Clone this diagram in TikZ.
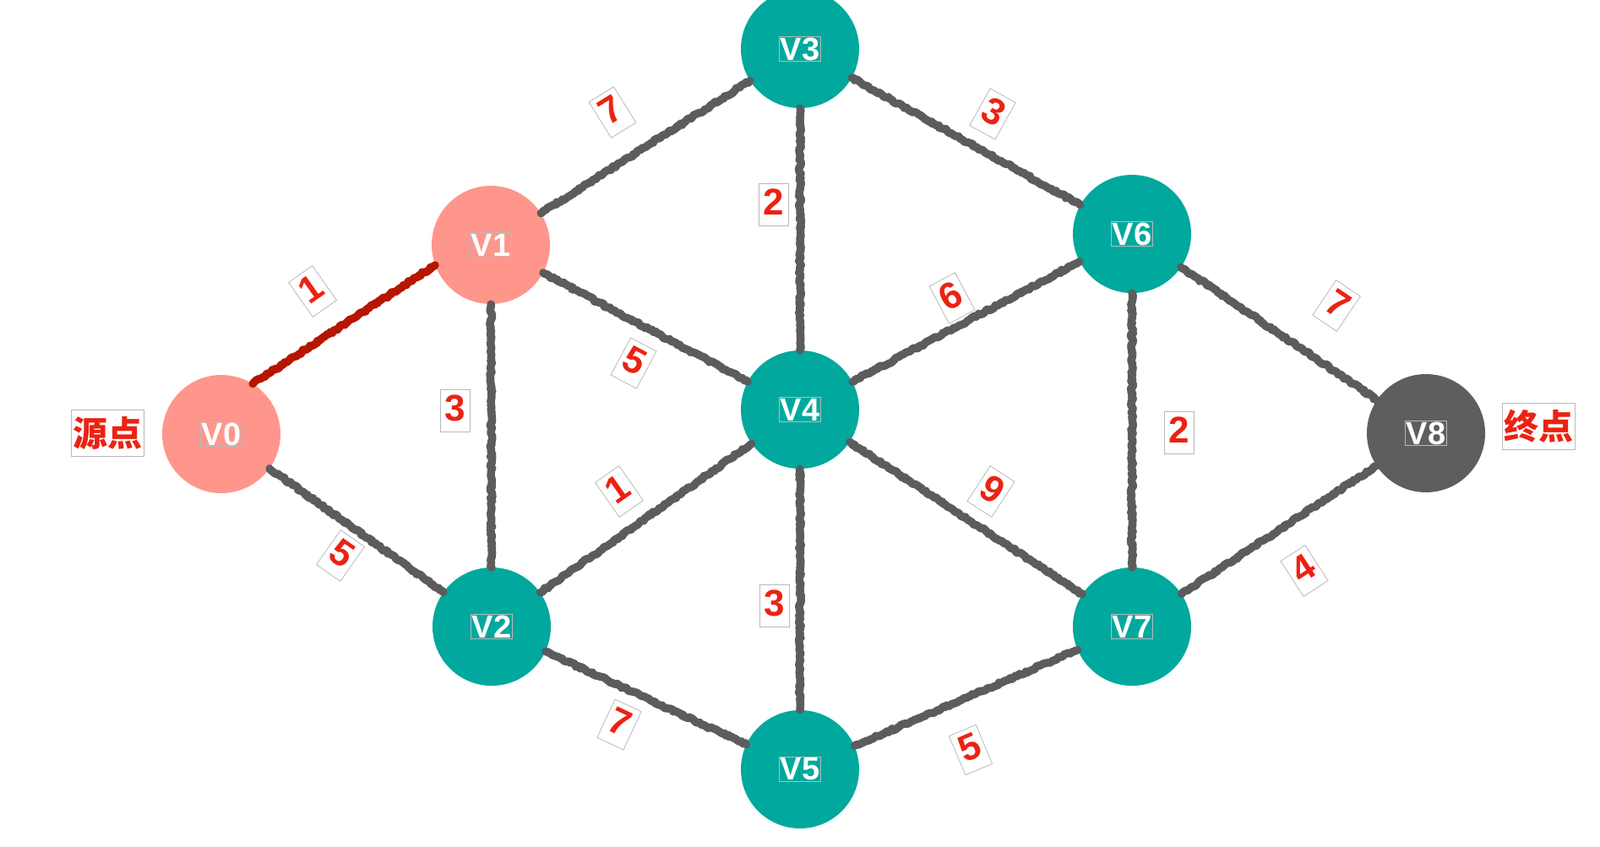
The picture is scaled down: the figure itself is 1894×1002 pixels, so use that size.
\documentclass[tikz,border=0pt]{standalone}
\usepackage{fontspec}
\setmainfont{Liberation Sans}
\newfontfamily\cjkfont{Noto Sans CJK SC}
\usetikzlibrary{decorations.pathmorphing}
\definecolor{tealc}{RGB}{0,168,157}
\definecolor{pinkc}{RGB}{255,150,140}
\definecolor{darkc}{RGB}{94,94,94}
\definecolor{edgegray}{RGB}{92,92,92}
\definecolor{edgered}{RGB}{182,22,0}
\definecolor{labred}{RGB}{236,34,18}
\definecolor{boxgray}{RGB}{185,185,185}
\newcommand{\vlab}[1]{{\setlength{\fboxsep}{1pt}\setlength{\fboxrule}{0.8pt}\color{boxgray}\fbox{\color{white}#1}}}
\tikzset{
  vert/.style={circle,minimum size=140pt,inner sep=0pt,font=\bfseries\fontsize{38}{40}\selectfont},
  tealnode/.style={vert,fill=tealc},
  pinknode/.style={vert,fill=pinkc},
  darknode/.style={vert,fill=darkc},
  edgeline/.style={draw=edgegray,line width=9.5pt,line join=round,line cap=round,
    decorate,decoration={random steps,segment length=2.5pt,amplitude=1.4pt}},
  rededge/.style={edgeline,draw=edgered},
  wlab/.style={draw=boxgray,line width=0.8pt,fill=white,text=labred,
    font=\bfseries\fontsize{44}{44}\selectfont,inner xsep=5pt,inner ysep=5pt,
    text height=32pt,text depth=8pt},
  cjklab/.style={draw=boxgray,line width=0.8pt,fill=white,text=labred,
    font=\cjkfont\bfseries\fontsize{41}{41}\selectfont,inner xsep=2pt,inner ysep=8pt}
}
\begin{document}
\begin{tikzpicture}[x=1pt,y=-1pt]
\useasboundingbox (0,0) rectangle (1894,1002);
\node[pinknode] (v0) at (262,514) {\vlab{V0}};
\node[pinknode] (v1) at (581,290) {\vlab{V1}};
\node[tealnode] (v2) at (582,742) {\vlab{V2}};
\node[tealnode] (v3) at (947,58) {\vlab{V3}};
\node[tealnode] (v4) at (947,485) {\vlab{V4}};
\node[tealnode] (v5) at (947,911) {\vlab{V5}};
\node[tealnode] (v6) at (1340,277) {\vlab{V6}};
\node[tealnode] (v7) at (1340,742) {\vlab{V7}};
\node[darknode] (v8) at (1688,513) {\vlab{V8}};

\draw[rededge] (v0.58) -- (v1.200);
\draw[edgeline] (v0) -- (v2);
\draw[edgeline] (v1) -- (v3);
\draw[edgeline] (v1) -- (v2);
\draw[edgeline] (v1) -- (v4);
\draw[edgeline] (v2) -- (v4);
\draw[edgeline] (v2) -- (v5);
\draw[edgeline] (v3) -- (v4);
\draw[edgeline] (v3) -- (v6);
\draw[edgeline] (v4) -- (v6);
\draw[edgeline] (v4) -- (v5);
\draw[edgeline] (v4) -- (v7);
\draw[edgeline] (v5) -- (v7);
\draw[edgeline] (v6) -- (v7);
\draw[edgeline] (v6) -- (v8);
\draw[edgeline] (v7) -- (v8);

\node[wlab,rotate=35] (l01) at (370,345) {1};
\node[wlab,rotate=-35] (l02) at (403,658) {5};
\node[wlab,rotate=32] (l13) at (725,133) {7};
\node[wlab] (l12) at (539,486) {3};
\node[wlab,rotate=-28] (l14) at (750,430) {5};
\node[wlab,rotate=35] (l24) at (733,582) {1};
\node[wlab,rotate=-25] (l25) at (733,858) {7};
\node[wlab] (l34) at (916,242) {2};
\node[wlab,rotate=-29] (l36) at (1175,135) {3};
\node[wlab,rotate=28] (l46) at (1127,353) {6};
\node[wlab] (l45) at (917,717) {3};
\node[wlab,rotate=-33] (l47) at (1173,582) {9};
\node[wlab,rotate=23] (l57) at (1149,888) {5};
\node[wlab] (l67) at (1396,512) {2};
\node[wlab,rotate=-34] (l68) at (1582,362) {7};
\node[wlab,rotate=33] (l78) at (1544,676) {4};

\node[cjklab] (src) at (127,513) {源点};
\node[cjklab] (dst) at (1821,505) {终点};
\end{tikzpicture}
\end{document}
